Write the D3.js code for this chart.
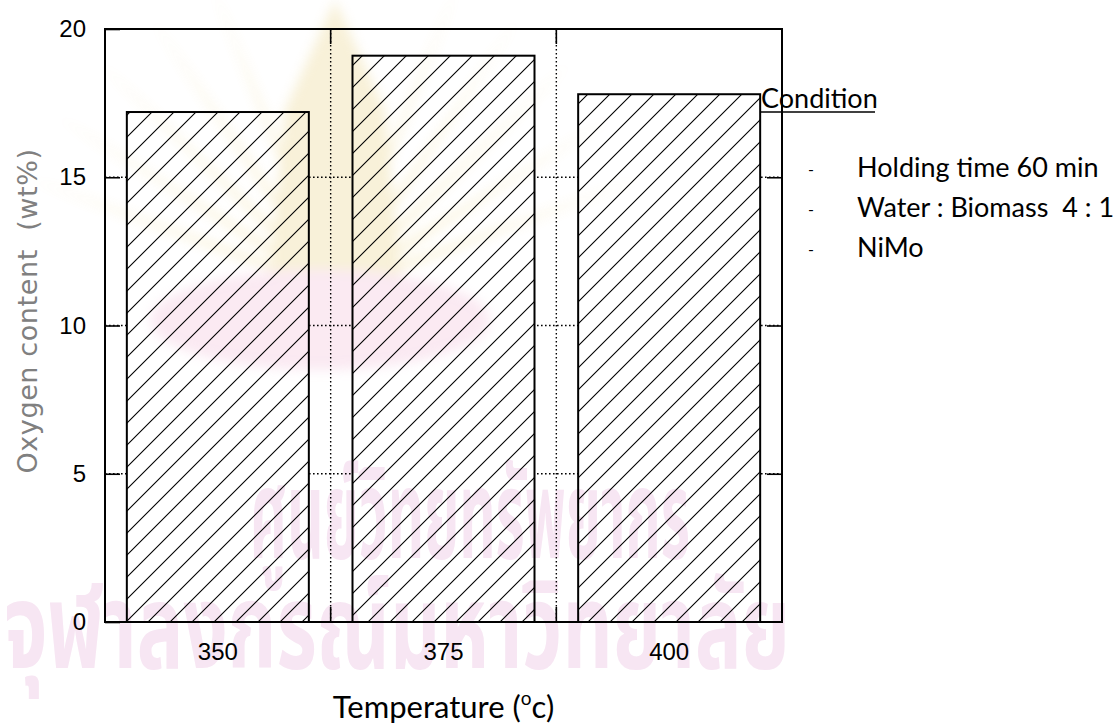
<!DOCTYPE html>
<html>
<head>
<meta charset="utf-8">
<script src="https://cdn.jsdelivr.net/npm/d3@7"></script>
<style>
  html, body { margin: 0; padding: 0; background: #fff; }
  svg { display: block; }
</style>
</head>
<body>
<svg id="chart" width="1117" height="726"></svg>
<script>
// Oxygen content of the bio-oil at each reaction temperature
const temperatures = ["350", "375", "400"];
const oxygenContent = [17.2, 19.1, 17.8];
const yTicks = [0, 5, 10, 15, 20];
const gridValues = [5, 10, 15];
const conditionTitle = "Condition";
const conditionItems = ["Holding time 60 min", "Water : Biomass  4 : 1", "NiMo"];

const svg = d3.select("#chart");
const W = 1117, H = 726;
const plot = { left: 105, right: 782, top: 29, bottom: 622 };

const x = d3.scaleBand()
  .domain(temperatures)
  .range([plot.left, plot.right])
  .paddingInner(0.1935)
  .paddingOuter(0.1935 / 2);

const y = d3.scaleLinear().domain([0, 20]).range([plot.bottom, plot.top]);

// diagonal hatch used for the bar fill
const defs = svg.append("defs");
defs.append("pattern")
  .attr("id", "hatch")
  .attr("patternUnits", "userSpaceOnUse")
  .attr("width", 22).attr("height", 22)
  .append("path")
  .attr("d", "M-11,11 L11,-11 M0,22 L22,0 M11,33 L33,11")
  .attr("stroke", "#000").attr("stroke-width", 1.1).attr("fill", "none");

defs.append("filter").attr("id", "soft")
  .attr("x", "-20%").attr("y", "-20%").attr("width", "140%").attr("height", "140%")
  .append("feGaussianBlur").attr("stdDeviation", 6);

svg.append("rect").attr("width", W).attr("height", H).attr("fill", "#fff");

// dotted grid: horizontal at the y ticks, vertical between categories
const dividers = temperatures.slice(0, -1).map(t => x(t) + x.bandwidth() + x.step() * x.paddingInner() / 2);

const grid = svg.append("g").attr("class", "grid")
  .attr("stroke", "#000").attr("stroke-width", 1.4).attr("stroke-dasharray", "1.6,2.4");
grid.selectAll("line.h").data(gridValues).join("line").attr("class", "h")
  .attr("x1", plot.left).attr("x2", plot.right)
  .attr("y1", d => y(d)).attr("y2", d => y(d));
grid.selectAll("line.v").data(dividers).join("line").attr("class", "v")
  .attr("x1", d => d).attr("x2", d => d)
  .attr("y1", plot.top).attr("y2", plot.bottom);

// bars
const bars = svg.append("g").attr("class", "bars");
const barData = temperatures.map((t, i) => ({ t, v: oxygenContent[i] }));
bars.selectAll("rect.bg").data(barData).join("rect").attr("class", "bg")
  .attr("x", d => x(d.t)).attr("width", x.bandwidth())
  .attr("y", d => y(d.v)).attr("height", d => y(0) - y(d.v))
  .attr("fill", "#fff");
bars.selectAll("rect.fg").data(barData).join("rect").attr("class", "fg")
  .attr("x", d => x(d.t)).attr("width", x.bandwidth())
  .attr("y", d => y(d.v)).attr("height", d => y(0) - y(d.v))
  .attr("fill", "url(#hatch)")
  .attr("stroke", "#000").attr("stroke-width", 2);

// y axis with inward ticks, and matching inward ticks on the right edge
const yAxis = svg.append("g")
  .attr("transform", `translate(${plot.left},0)`)
  .call(d3.axisLeft(y).tickValues(yTicks).tickSize(-15).tickPadding(19));
yAxis.select(".domain").remove();
yAxis.selectAll(".tick line").attr("stroke", "#000").attr("stroke-width", 1.6);
yAxis.selectAll("text")
  .attr("font-family", "'Liberation Sans', Arial, sans-serif")
  .attr("font-size", 24).attr("fill", "#000");

const yRight = svg.append("g")
  .attr("transform", `translate(${plot.right},0)`)
  .call(d3.axisRight(y).tickValues(gridValues).tickSize(-15).tickFormat(""));
yRight.select(".domain").remove();
yRight.selectAll(".tick line").attr("stroke", "#000").attr("stroke-width", 1.6);

// x axis: category labels, with ticks at the dividers on top and bottom
const xAxis = svg.append("g")
  .attr("transform", `translate(0,${plot.bottom})`)
  .call(d3.axisBottom(x).tickSize(0).tickPadding(21));
xAxis.select(".domain").remove();
xAxis.selectAll("text")
  .attr("font-family", "'Liberation Sans', Arial, sans-serif")
  .attr("font-size", 24).attr("fill", "#000");

const divTicks = svg.append("g").attr("stroke", "#000").attr("stroke-width", 1.6);
divTicks.selectAll("line.b").data(dividers).join("line").attr("class", "b")
  .attr("x1", d => d).attr("x2", d => d)
  .attr("y1", plot.bottom).attr("y2", plot.bottom - 15);
divTicks.selectAll("line.t").data(dividers).join("line").attr("class", "t")
  .attr("x1", d => d).attr("x2", d => d)
  .attr("y1", plot.top).attr("y2", plot.top + 15);

// frame
svg.append("rect")
  .attr("x", plot.left).attr("y", plot.top)
  .attr("width", plot.right - plot.left).attr("height", plot.bottom - plot.top)
  .attr("fill", "none").attr("stroke", "#000").attr("stroke-width", 2);

// axis titles
svg.append("text")
  .attr("transform", "translate(37,311) rotate(-90)")
  .attr("text-anchor", "middle")
  .attr("font-family", "'DejaVu Sans', Verdana, sans-serif")
  .attr("font-size", 27).attr("letter-spacing", 0.6).attr("fill", "#808080")
  .attr("xml:space", "preserve")
  .text("Oxygen content  (wt%)");

const xTitle = svg.append("text")
  .attr("x", (plot.left + plot.right) / 2).attr("y", 718)
  .attr("text-anchor", "middle")
  .attr("font-family", "Lato, 'Open Sans', sans-serif")
  .attr("font-size", 31).attr("fill", "#000");
xTitle.append("tspan").text("Temperature (");
xTitle.append("tspan").attr("font-size", 19).attr("dy", -13).text("o");
xTitle.append("tspan").attr("dy", 13).text("c)");

// condition notes
const note = svg.append("g")
  .attr("font-family", "Lato, 'Open Sans', sans-serif").attr("fill", "#000");
note.append("text").attr("x", 761).attr("y", 108).attr("font-size", 27).text(conditionTitle);
note.append("line").attr("x1", 761).attr("x2", 875).attr("y1", 112).attr("y2", 112)
  .attr("stroke", "#000").attr("stroke-width", 1.6);
note.selectAll("text.item").data(conditionItems).join("text").attr("class", "item")
  .attr("x", 857).attr("y", (d, i) => 177 + i * 40)
  .attr("font-size", 27).attr("xml:space", "preserve").text(d => d);
note.selectAll("text.dash").data(conditionItems).join("text").attr("class", "dash")
  .attr("x", 808).attr("y", (d, i) => 175 + i * 40)
  .attr("font-size", 16).text("-");

// faint university emblem and name behind the chart
const wm = svg.append("g").style("mix-blend-mode", "multiply").attr("pointer-events", "none");
const emb = wm.append("g").attr("filter", "url(#soft)").attr("opacity", 0.3);
const rayAngles = [-160, -148, -136, -124, -112, -68, -56, -44, -32, -20];
emb.selectAll("path.ray").data(rayAngles).join("path").attr("class", "ray")
  .attr("d", a => {
    const cx = 335, cy = 290, r0 = 60, r1 = 330, w = 3;
    const t = a * Math.PI / 180;
    const p = (r, da) => [cx + r * Math.cos(t + da), cy + r * Math.sin(t + da)];
    const [a1, a2, a3] = [p(r0, -w * Math.PI / 180), p(r1, 0), p(r0, w * Math.PI / 180)];
    return `M${a1}L${a2}L${a3}Z`;
  })
  .attr("fill", "#e8c860");
emb.append("path")
  .attr("d", "M335,0 L385,110 L405,330 L265,330 L285,110 Z")
  .attr("fill", "#e8d080");
emb.append("ellipse").attr("cx", 320).attr("cy", 320).attr("rx", 170).attr("ry", 50)
  .attr("fill", "#f0b8d4");

const thai = wm.append("g")
  .attr("font-family", "'Noto Sans Thai', 'Noto Sans', 'DejaVu Sans', sans-serif")
  .attr("font-weight", "bold").attr("fill", "#f7e6f3");
thai.append("text").attr("x", 250).attr("y", 558).attr("font-size", 125)
  .attr("textLength", 440).attr("lengthAdjust", "spacingAndGlyphs")
  .text("ศูนย์วิทยทรัพยากร");
thai.append("text").attr("x", 4).attr("y", 668).attr("font-size", 120)
  .attr("textLength", 786).attr("lengthAdjust", "spacingAndGlyphs")
  .text("จุฬาลงกรณ์มหาวิทยาลัย");
</script>
</body>
</html>
